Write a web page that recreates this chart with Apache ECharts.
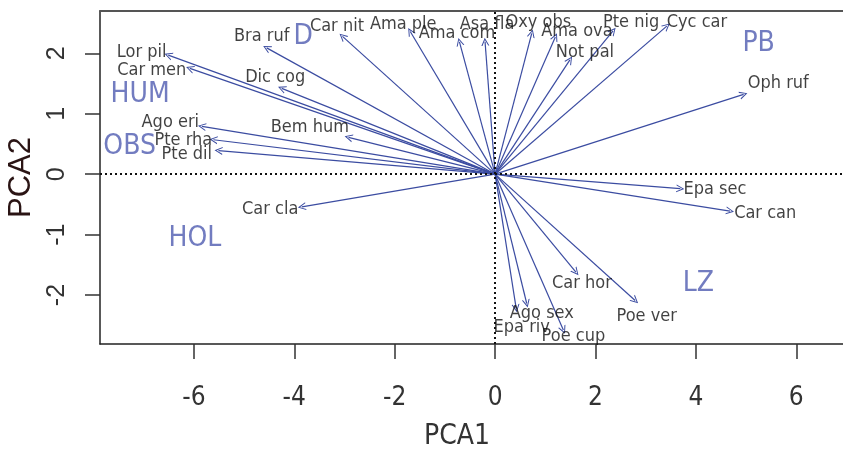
<!DOCTYPE html>
<html>
<head>
<meta charset="utf-8">
<script src="https://cdn.jsdelivr.net/npm/echarts@6/dist/echarts.min.js"></script>
<style>
  html, body { margin: 0; padding: 0; background: #fff; }
  #chart { width: 843px; height: 450px; }
</style>
</head>
<body>
<div id="chart"></div>
<script>
// species loadings (arrow tips, PCA1 / PCA2)
var species = ['Lor pil', 'Car men', 'Dic cog', 'Bra ruf', 'Car nit', 'Ama ple', 'Ama com', 'Asa fla',
  'Ago eri', 'Bem hum', 'Pte rha', 'Pte dil', 'Oxy obs', 'Ama ova', 'Not pal', 'Pte nig', 'Cyc car',
  'Oph ruf', 'Epa sec', 'Car can', 'Car hor', 'Poe ver', 'Ago sex', 'Epa riv', 'Poe cup', 'Car cla'];
var pca1 = [-6.51, -6.08, -4.25, -4.55, -3.04, -1.69, -0.71, -0.20,
  -5.84, -2.92, -5.61, -5.51, 0.73, 1.20, 1.49, 2.35, 3.42,
  4.95, 3.69, 4.68, 1.61, 2.79, 0.63, 0.42, 1.36, -3.85];
var pca2 = [1.97, 1.75, 1.42, 2.09, 2.28, 2.36, 2.19, 2.19,
  0.79, 0.61, 0.57, 0.39, 2.33, 2.27, 1.89, 2.37, 2.45,
  1.32, -0.24, -0.61, -1.62, -2.09, -2.14, -2.22, -2.58, -0.54];
// where the species names sit
var labX = [-7.04, -6.84, -4.38, -4.65, -3.15, -1.83, -0.76, -0.16,
  -6.47, -3.69, -6.21, -6.14, 0.86, 1.63, 1.79, 2.71, 4.02,
  5.64, 4.38, 5.38, 1.73, 3.02, 0.93, 0.53, 1.56, -4.48];
var labY = [2.01, 1.72, 1.60, 2.28, 2.44, 2.48, 2.33, 2.48,
  0.85, 0.77, 0.56, 0.33, 2.52, 2.36, 2.01, 2.52, 2.52,
  1.50, -0.25, -0.64, -1.81, -2.35, -2.31, -2.53, -2.69, -0.58];

// habitat groups
var groups = ['HUM', 'OBS', 'D', 'PB', 'LZ', 'HOL'];
var groupX = [-7.07, -7.28, -3.82, 5.25, 4.05, -5.98];
var groupY = [1.31, 0.45, 2.28, 2.16, -1.81, -1.06];

var xTicks = [-6, -4, -2, 0, 2, 4, 6];
var yTicks = [-2, -1, 0, 1, 2];

var narrow = '"DejaVu Sans Condensed", "Liberation Sans", sans-serif';
var wide = '"Liberation Sans", Arial, sans-serif';

var arrowData = species.map(function (s, i) {
  return { name: s, coords: [[0, 0], [pca1[i], pca2[i]]] };
});
var labelData = species.map(function (s, i) {
  return [labX[i], labY[i], s];
});
var groupData = groups.map(function (g, i) {
  return [groupX[i], groupY[i], g];
});

var myChart = echarts.init(document.getElementById('chart'));
myChart.setOption({
  animation: false,
  grid: {
    left: 100,
    top: 11,
    right: 0,
    bottom: 106,
    show: false,
    outerBoundsMode: 'none'
  },
  xAxis: [
    {
      type: 'value',
      min: -7.87,
      max: 6.93,
      name: 'PCA1',
      nameLocation: 'middle',
      nameGap: 79,
      nameTextStyle: { fontSize: 28, color: '#333', fontFamily: narrow, padding: [0, 29, 0, 0] },
      axisLine: { show: true, onZero: false, lineStyle: { color: '#222', width: 1.5 } },
      axisTick: { show: true, length: 15, lineStyle: { color: '#333', width: 1.5 }, customValues: xTicks },
      axisLabel: { fontSize: 26, color: '#333', fontFamily: narrow, margin: 41, customValues: xTicks },
      splitLine: { show: false }
    },
    {
      type: 'value',
      position: 'top',
      min: -7.87,
      max: 6.93,
      axisLine: { show: true, onZero: false, lineStyle: { color: '#555', width: 2 } },
      axisTick: { show: false },
      axisLabel: { show: false },
      splitLine: { show: false }
    }
  ],
  yAxis: {
    type: 'value',
    min: -2.81,
    max: 2.70,
    name: 'PCA2',
    nameLocation: 'middle',
    nameGap: 62,
    nameTextStyle: { fontSize: 31, color: '#2a1414', fontFamily: wide },
    axisLine: { show: true, onZero: false, lineStyle: { color: '#222', width: 1.5 } },
    axisTick: { show: true, length: 15, lineStyle: { color: '#333', width: 1.5 }, customValues: yTicks },
    axisLabel: { fontSize: 25, color: '#333', fontFamily: wide, margin: 30, rotate: 90, customValues: yTicks },
    splitLine: { show: false }
  },
  series: [
    {
      type: 'lines',
      coordinateSystem: 'cartesian2d',
      data: arrowData,
      symbol: ['none', 'path://M0,10 L5,0 L10,10 L8.6,10 L5,2.6 L1.4,10 Z'],
      symbolSize: 8,
      lineStyle: { color: '#3b4ca1', width: 1.2, opacity: 1 },
      markLine: {
        silent: true,
        symbol: 'none',
        label: { show: false },
        lineStyle: { color: '#111', type: [2, 3], width: 2 },
        data: [{ xAxis: 0 }, { yAxis: 0 }]
      },
      z: 3
    },
    {
      type: 'scatter',
      data: labelData,
      symbolSize: 0,
      label: {
        show: true,
        position: 'inside',
        formatter: function (p) { return p.data[2]; },
        fontSize: 18,
        color: '#111',
        fontFamily: narrow
      },
      z: 4
    },
    {
      type: 'scatter',
      data: groupData,
      symbolSize: 0,
      label: {
        show: true,
        position: 'inside',
        formatter: function (p) { return p.data[2]; },
        fontSize: 28,
        color: '#4f5bb0',
        fontFamily: narrow
      },
      z: 4
    }
  ]
});
</script>
</body>
</html>
